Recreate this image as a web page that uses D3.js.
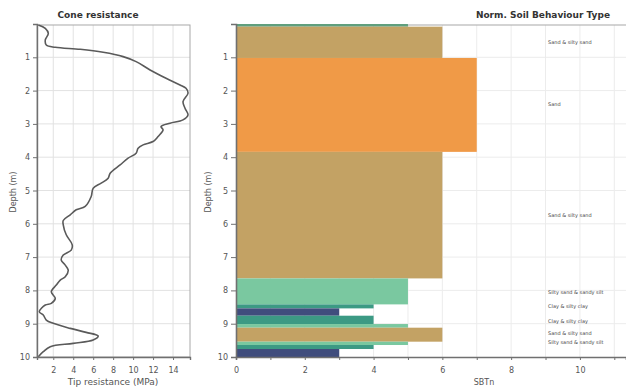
<!DOCTYPE html>
<html>
<head>
<meta charset="utf-8">
<script src="https://cdn.jsdelivr.net/npm/d3@7"></script>
<style>
  body { margin: 0; background: #fff; }
  text { font-family: "DejaVu Sans", Verdana, sans-serif; }
</style>
</head>
<body>
<svg id="chart" width="626" height="389"></svg>
<script>
const coneDepth = [0.03, 0.13, 0.28, 0.48, 0.63, 0.70, 0.76, 0.85, 0.98, 1.13, 1.38, 1.63, 1.83, 1.93, 2.08, 2.33, 2.53, 2.73, 2.88, 2.98, 3.08, 3.18, 3.38, 3.53, 3.63, 3.73, 3.88, 4.03, 4.23, 4.48, 4.63, 4.78, 4.93, 5.18, 5.48, 5.58, 5.73, 5.90, 6.03, 6.33, 6.63, 6.79, 6.94, 7.09, 7.24, 7.39, 7.59, 7.69, 7.84, 8.04, 8.24, 8.39, 8.44, 8.64, 8.74, 8.89, 8.99, 9.14, 9.26, 9.37, 9.49, 9.59, 9.69, 9.84, 9.99];
const coneQc = [0.5, 1.2, 1.5, 1.2, 1.3, 2.2, 4.7, 7.0, 9.0, 10.3, 11.7, 13.3, 14.7, 15.3, 15.5, 15.0, 15.2, 15.5, 15.0, 13.7, 12.8, 13.0, 12.5, 12.0, 11.0, 10.5, 10.3, 9.5, 8.7, 7.7, 7.5, 6.8, 6.0, 5.8, 5.2, 4.3, 3.7, 3.0, 3.0, 3.3, 3.9, 3.8, 3.0, 2.8, 3.2, 3.5, 3.2, 2.7, 2.3, 1.8, 2.2, 1.8, 1.2, 0.6, 1.0, 1.3, 2.0, 3.7, 5.3, 6.5, 6.0, 4.0, 1.7, 1.0, 0.5];

const layerTop = [0, 0.08, 1.02, 3.84, 7.64, 8.42, 8.54, 8.76, 9.01, 9.12, 9.54, 9.64, 9.76];
const layerBottom = [0.08, 1.02, 3.84, 7.64, 8.42, 8.54, 8.76, 9.01, 9.12, 9.54, 9.64, 9.76, 10];
const layerSbtn = [5, 6, 7, 6, 5, 4, 3, 4, 5, 6, 5, 4, 3];

const sbtnColors = { 3: "#404d7d", 4: "#3c9a84", 5: "#7ac8a0", 6: "#c3a264", 7: "#f09a47" };

const labelText = ["Sand & silty sand", "Sand", "Sand & silty sand", "Silty sand & sandy silt", "Clay & silty clay", "Clay & silty clay", "Sand & silty sand", "Silty sand & sandy silt"];
const labelDepth = [0.55, 2.4, 5.73, 8.05, 8.46, 8.91, 9.28, 9.56];

const depthTicks = [1, 2, 3, 4, 5, 6, 7, 8, 9, 10];
const qcTicks = [2, 4, 6, 8, 10, 12, 14];
const sbtnTicks = [0, 2, 4, 6, 8, 10];

const svg = d3.select("#chart");
const y = d3.scaleLinear().domain([0, 10]).range([24, 357]);

// left panel: cone resistance
const xq = d3.scaleLinear().domain([0.37, 15.7]).range([37, 190]);
const left = svg.append("g");
left.selectAll(".vg").data(qcTicks).join("line").attr("x1", d => xq(d)).attr("x2", d => xq(d)).attr("y1", y(0.03)).attr("y2", y(10)).attr("stroke", "#e2e2e2").attr("stroke-width", 1);
left.selectAll(".hg").data(depthTicks.slice(0, 9)).join("line").attr("x1", 37).attr("x2", 190).attr("y1", d => y(d)).attr("y2", d => y(d)).attr("stroke", "#e2e2e2").attr("stroke-width", 1);
left.append("rect").attr("x", 37).attr("y", y(0.03)).attr("width", 153).attr("height", y(10) - y(0.03)).attr("fill", "none").attr("stroke", "#a8a8a8").attr("stroke-width", 1);
const line = d3.line().x((d, i) => xq(coneQc[i])).y(d => y(d)).curve(d3.curveCatmullRom.alpha(0.5));
left.append("path").datum(coneDepth).attr("d", line).attr("fill", "none").attr("stroke", "#5a5a5a").attr("stroke-width", 1.6).attr("stroke-linejoin", "round");
const leftY = left.append("g").attr("transform", "translate(37,0)").call(d3.axisLeft(y).tickValues(depthTicks).tickSize(4).tickFormat(d3.format("d")));
const leftX = left.append("g").attr("transform", `translate(0,${y(10)})`).call(d3.axisBottom(xq).tickValues(qcTicks).tickSize(3).tickFormat(d3.format("d")));
[leftY, leftX].forEach(a => {
  a.select(".domain").attr("stroke", "#707070").attr("stroke-width", 1.4);
  a.selectAll(".tick line").attr("stroke", "#707070");
  a.selectAll(".tick text").attr("fill", "#555").attr("font-size", 8);
});
leftX.selectAll(".tick text").attr("dy", "1.2em");
left.append("text").attr("x", 98).attr("y", 18).attr("text-anchor", "middle").attr("font-size", 9).attr("font-weight", "bold").attr("fill", "#333").text("Cone resistance");
left.append("text").attr("x", 113).attr("y", 385).attr("text-anchor", "middle").attr("font-size", 9).attr("fill", "#555").text("Tip resistance (MPa)");
left.append("text").attr("transform", "translate(16,192) rotate(-90)").attr("text-anchor", "middle").attr("font-size", 8).attr("fill", "#555").text("Depth (m)");

// right panel: SBTn
const xs = d3.scaleLinear().domain([0, 11.34]).range([236, 626]);
const right = svg.append("g");
right.selectAll(".vg").data(d3.range(1, 12)).join("line").attr("x1", d => xs(d)).attr("x2", d => xs(d)).attr("y1", y(0.03)).attr("y2", y(10)).attr("stroke", "#ececec").attr("stroke-width", 1);
right.selectAll(".hg").data(depthTicks.slice(0, 9)).join("line").attr("x1", 236).attr("x2", 626).attr("y1", d => y(d)).attr("y2", d => y(d)).attr("stroke", "#ececec").attr("stroke-width", 1);
right.append("line").attr("x1", 236).attr("x2", 626).attr("y1", y(0.03)).attr("y2", y(0.03)).attr("stroke", "#a8a8a8").attr("stroke-width", 1.2);
right.selectAll(".layer").data(layerSbtn).join("rect")
  .attr("x", xs(0)).attr("y", (d, i) => y(layerTop[i])).attr("width", d => xs(d) - xs(0))
  .attr("height", (d, i) => y(layerBottom[i]) - y(layerTop[i])).attr("fill", (d, i) => i === 0 ? "#5f9f7e" : sbtnColors[d]);
right.selectAll(".lbl").data(labelText).join("text").attr("x", 548).attr("y", (d, i) => y(labelDepth[i]) + 2).attr("font-size", 5).attr("fill", "#444").text(d => d);
const rightY = right.append("g").attr("transform", "translate(236,0)").call(d3.axisLeft(y).tickValues(depthTicks).tickSize(5).tickFormat(d3.format("d")));
const rightX = right.append("g").attr("transform", `translate(0,${y(10)})`).call(d3.axisBottom(xs).tickValues(d3.range(0, 12)).tickSize(3).tickFormat(d => sbtnTicks.includes(d) ? d : ""));
[rightY, rightX].forEach(a => {
  a.select(".domain").attr("stroke", "#707070").attr("stroke-width", 1.6);
  a.selectAll(".tick line").attr("stroke", "#707070");
  a.selectAll(".tick text").attr("fill", "#555").attr("font-size", 8);
});
rightX.selectAll(".tick text").attr("dy", "1.2em");
right.append("text").attr("x", 610).attr("y", 18).attr("text-anchor", "end").attr("font-size", 9).attr("font-weight", "bold").attr("fill", "#333").text("Norm. Soil Behaviour Type");
right.append("text").attr("x", 484).attr("y", 385).attr("text-anchor", "middle").attr("font-size", 8).attr("fill", "#555").text("SBTn");
right.append("text").attr("transform", "translate(211,192) rotate(-90)").attr("text-anchor", "middle").attr("font-size", 8).attr("fill", "#555").text("Depth (m)");
</script>
</body>
</html>
